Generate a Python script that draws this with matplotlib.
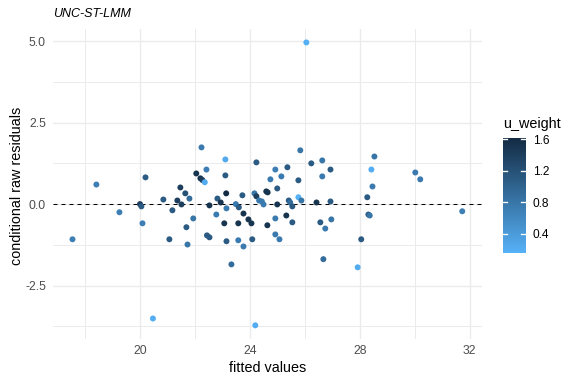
import numpy
import matplotlib
matplotlib.use("Agg")
import matplotlib.pyplot as plt
from matplotlib.colors import LinearSegmentedColormap, Normalize
#----------------------------------------------------


#Data
fitted = [17.53, 18.40, 19.24, 19.99, 20.04, 20.08, 20.19, 20.46, 20.84, 21.06,
          21.17, 21.35, 21.46, 21.50, 21.64, 21.68, 21.72, 21.79, 21.93, 22.04,
          22.19, 22.26, 22.23, 22.35, 22.41, 22.43, 22.52, 22.52, 22.77, 22.81,
          22.93, 23.06, 23.10, 23.10, 23.13, 23.14, 23.14, 23.32, 23.48, 23.57,
          23.57, 23.59, 23.72, 23.76, 23.76, 23.94, 24.05, 24.08, 24.16, 24.23,
          24.23, 24.19, 24.33, 24.43, 24.49, 24.59, 24.64, 24.63, 24.74, 24.92,
          24.92, 24.92, 24.99, 24.99, 25.07, 25.14, 25.32, 25.36, 25.41, 25.46,
          25.54, 25.54, 25.76, 25.76, 25.83, 25.87, 26.05, 26.23, 26.42, 26.56,
          26.63, 26.63, 26.67, 26.74, 26.93, 26.93, 26.96, 27.92, 28.05, 28.27,
          28.31, 28.36, 28.42, 28.46, 28.53, 30.02, 30.20, 31.73]
resid = [-1.08, 0.60, -0.25, 0.00, -0.07, -0.59, 0.82, -3.51, 0.14, -1.08,
         -0.19, 0.11, 0.51, -0.01, 0.33, -0.71, -1.24, 0.17, -0.44, 0.94,
         0.79, 0.74, 1.74, 0.67, 1.06, -0.96, -1.02, -0.04, -0.32, 0.17,
         0.05, -0.59, 1.37, 0.88, 0.33, -0.13, -1.14, -1.85, 0.00, -0.59,
         -1.11, -0.10, 0.27, -0.29, -1.30, -0.47, -0.59, -1.08, 0.33, 0.24,
         1.28, -3.72, 0.11, 0.08, -0.01, 0.39, 0.36, -0.65, 0.76, 1.06,
         -0.44, -0.93, 0.48, -0.01, -1.08, 0.85, -0.35, 1.13, 0.11, 0.05,
         -0.07, -0.56, 0.73, 0.21, 1.65, 0.11, 4.96, 1.25, 0.05, -0.56,
         1.34, 0.85, -1.69, -0.75, 1.06, 0.08, -0.47, -1.94, -1.08, 0.21,
         -0.32, -0.35, 1.06, 0.54, 1.46, 0.97, 0.76, -0.22]
u_weight = [0.70, 0.70, 0.70, 1.40, 1.10, 0.70, 1.10, 0.20, 1.10, 1.10,
            1.10, 1.40, 1.40, 1.40, 1.20, 1.10, 0.80, 0.90, 0.80, 1.50,
            1.50, 1.40, 0.75, 0.22, 0.70, 1.10, 1.10, 1.50, 0.75, 1.10,
            1.50, 1.50, 0.25, 1.10, 1.61, 0.75, 1.10, 0.90, 0.75, 1.50,
            0.75, 1.10, 1.10, 1.50, 0.75, 1.50, 1.50, 1.10, 0.80, 1.40,
            1.10, 0.20, 0.75, 0.75, 0.75, 1.50, 1.50, 1.50, 0.75, 0.70,
            0.75, 0.75, 1.10, 1.50, 0.75, 0.75, 1.50, 1.10, 1.10, 0.90,
            1.10, 1.10, 1.10, 0.16, 0.80, 0.80, 0.18, 1.10, 1.50, 1.10,
            0.80, 0.75, 0.90, 0.75, 1.10, 1.10, 0.80, 0.22, 1.10, 1.10,
            1.10, 0.80, 0.20, 0.75, 0.80, 0.75, 0.75, 0.70]

x_ticks = [20, 24, 28, 32]
y_ticks = [-2.5, 0.0, 2.5, 5.0]
cbar_ticks = [0.4, 0.8, 1.2, 1.6]


#Style
plt.rcParams['font.family'] = ['Liberation Sans', 'DejaVu Sans']
grey_text = "#4D4D4D"
grid_col = "#EBEBEB"
cmap = LinearSegmentedColormap.from_list("gg", ["#56B1F7", "#132B43"])
norm = Normalize(vmin=min(u_weight), vmax=max(u_weight))


#Figure
fig = plt.figure(figsize=(6, 4), dpi=96)
ax = fig.add_axes([0.0925, 0.118, 0.7443, 0.8054])

ax.set_xlim(16.83, 32.45)
ax.set_ylim(-4.13, 5.36)
ax.set_xticks(x_ticks)
ax.set_xticks([18, 22, 26, 30], minor=True)
ax.set_yticks(y_ticks)
ax.set_yticks([-3.75, -1.25, 1.25, 3.75], minor=True)
ax.set_yticklabels(["%.1f" % v for v in y_ticks])
ax.grid(which="major", color=grid_col, lw=1.0)
ax.grid(which="minor", color=grid_col, lw=0.75)
ax.set_axisbelow(True)
ax.tick_params(which="both", length=0)
ax.tick_params(axis="x", pad=5, labelsize=9.2, labelcolor=grey_text)
ax.tick_params(axis="y", pad=5.5, labelsize=9.2, labelcolor=grey_text)
for s in ax.spines.values():
    s.set_visible(False)

ax.axhline(0, color="black", lw=0.75, ls=(0, (4, 4)), zorder=2)
ax.scatter(fitted, resid, c=u_weight, cmap=cmap, norm=norm, s=20,
           linewidths=0, zorder=3)


#Labels
fig.text(53.3 / 576, 1 - 14 / 384, "UNC-ST-LMM", style="italic", fontsize=9.4,
         va="center", ha="left")
fig.text(267.7 / 576, 1 - 368 / 384, "fitted values", fontsize=10.8,
         va="center", ha="center")
fig.text(17 / 576, 1 - 186 / 384, "conditional raw residuals", fontsize=10.8,
         rotation=90, va="center", ha="center")


#Colorbar
cax = fig.add_axes([0.8727, 0.342, 0.0405, 0.298])
sm = plt.cm.ScalarMappable(norm=norm, cmap=cmap)
cb = fig.colorbar(sm, cax=cax, ticks=cbar_ticks)
cb.outline.set_visible(False)
cax.tick_params(length=0, pad=5, labelsize=8.9, labelcolor="black")
cax.set_yticklabels(["%.1f" % t for t in cbar_ticks])
for t in cbar_ticks:
    cax.plot([0, 0.2], [t, t], color="white", lw=1)
    cax.plot([0.8, 1], [t, t], color="white", lw=1)
cax.set_xlim(0, 1)
fig.text(503 / 576, 1 - 124 / 384, "u_weight", fontsize=10.8, va="center",
         ha="left")

fig.savefig("out.png", dpi=96)
